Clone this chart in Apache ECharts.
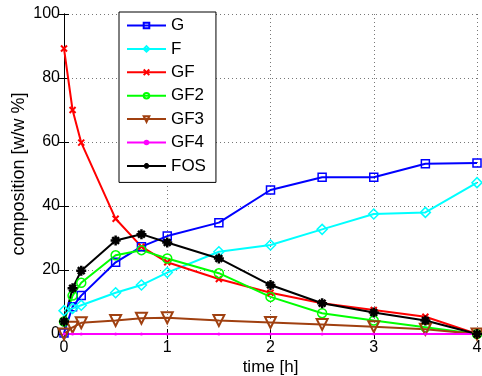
<!DOCTYPE html>
<html>
<head>
<meta charset="utf-8">
<script src="https://cdn.jsdelivr.net/npm/echarts@6/dist/echarts.min.js"></script>
<style>
  html, body { margin: 0; padding: 0; background: #fff; }
  #chart { width: 482px; height: 376px; }
</style>
</head>
<body>
<div id="chart"></div>
<script>
// time points [h]
const time = [0, 0.083, 0.167, 0.5, 0.75, 1, 1.5, 2, 2.5, 3, 3.5, 4];

// composition [w/w %]
const G   = [0.3, 8.5, 12, 22.4, 27.3, 30.6, 34.8, 45, 49, 49, 53.2, 53.4];
const F   = [7.3, 8, 9, 12.9, 15.3, 19.2, 25.7, 27.8, 32.7, 37.5, 38, 47.3];
const GF  = [89.2, 70, 59.8, 36, 27.3, 22.4, 17.2, 12.9, 9.6, 7.5, 5.4, 0];
const GF2 = [3.9, 12, 16, 24.6, 26.2, 23.6, 19, 11.6, 6.5, 4.2, 2.1, 0];
const GF3 = [0, 2.1, 3.5, 4.2, 4.9, 5.1, 4.2, 3.6, 3, 2.3, 1.5, 0];
const GF4 = [0, 0, 0, 0, 0, 0, 0, 0, 0, 0, 0, 0];
const FOS = [3.9, 14.3, 19.8, 29.2, 31.2, 28.6, 23.6, 15.3, 9.6, 6.7, 4.2, 0];

const xTicks = [0, 1, 2, 3, 4];
const yTicks = [0, 20, 40, 60, 80, 100];

const FONT = "'Liberation Sans', Arial, sans-serif";

// matlab-ish markers: hollow outlines, stroked paths for x and *
const CROSS = "path://M0,0L10,10M10,0L0,10";
const STAR = "path://M5,0L5,10M0,5L10,5M1.6,1.6L8.4,8.4M8.4,1.6L1.6,8.4";

function line(name, values, color, symbol, size, opts = {}) {
  return Object.assign({
    type: "line",
    name,
    data: values.map((v, i) => [time[i], v]),
    symbol,
    symbolSize: size,
    showAllSymbol: true,
    lineStyle: { color, width: 2 },
    itemStyle: { color: "rgba(0,0,0,0)", borderColor: color, borderWidth: 1.5 },
    emphasis: { disabled: true },
    animation: false,
  }, opts);
}

const chart = echarts.init(document.getElementById("chart"), null, { renderer: "canvas" });

chart.setOption({
  backgroundColor: "#fff",
  textStyle: { fontFamily: FONT },
  // v6 shrinks the grid to keep labels inside by default; the figure lets "4" hang off
  grid: { left: 64, right: 5, top: 14, bottom: 42, outerBoundsMode: "none" },
  legend: {
    orient: "vertical",
    left: 119,
    top: 12,
    padding: [5, 10, 8, 7],
    itemWidth: 39,
    itemHeight: 7,
    itemGap: 6.4,
    backgroundColor: "#fff",
    borderColor: "#000",
    borderWidth: 1,
    textStyle: { fontSize: 17, lineHeight: 17, color: "#000", fontFamily: FONT },
    data: ["G", "F", "GF", "GF2", "GF3", "GF4", "FOS"],
  },
  xAxis: [
    {
      type: "value",
      min: xTicks[0],
      max: xTicks[xTicks.length - 1],
      interval: 1,
      name: "time [h]",
      nameLocation: "middle",
      nameGap: 25,
      nameMoveOverlap: false,
      nameTextStyle: { fontSize: 17, color: "#000", fontFamily: FONT },
      axisLine: { lineStyle: { color: "#000", width: 1 } },
      axisTick: { inside: true, length: 5, lineStyle: { color: "#000" } },
      axisLabel: { fontSize: 16, color: "#000", margin: 6, fontFamily: FONT },
      splitLine: { show: true, lineStyle: { color: "#777", type: [1, 3], width: 1 } },
    },
    {
      type: "value",
      position: "top",
      min: xTicks[0],
      max: xTicks[xTicks.length - 1],
      interval: 1,
      axisLine: { lineStyle: { color: "#000", width: 1 } },
      axisTick: { inside: true, length: 5, lineStyle: { color: "#000" } },
      axisLabel: { show: false },
      splitLine: { show: false },
    },
  ],
  yAxis: [
    {
      type: "value",
      min: yTicks[0],
      max: yTicks[yTicks.length - 1],
      interval: 20,
      name: "composition [w/w %]",
      nameLocation: "middle",
      nameGap: 36,
      nameMoveOverlap: false,
      nameTextStyle: { fontSize: 18, color: "#000", fontFamily: FONT },
      axisLine: { show: true, lineStyle: { color: "#000", width: 1 } },
      axisTick: { show: true, inside: true, length: 5, lineStyle: { color: "#000" } },
      axisLabel: { fontSize: 16, color: "#000", margin: 4, fontFamily: FONT },
      splitLine: { show: true, lineStyle: { color: "#777", type: [1, 3], width: 1 } },
    },
    {
      type: "value",
      position: "right",
      min: yTicks[0],
      max: yTicks[yTicks.length - 1],
      interval: 20,
      axisLine: { show: true, lineStyle: { color: "#000", width: 1 } },
      axisTick: { show: true, inside: true, length: 5, lineStyle: { color: "#000" } },
      axisLabel: { show: false },
      splitLine: { show: false },
    },
  ],
  series: [
    line("G", G, "#0000ff", "rect", 8),
    line("F", F, "#00ffff", "diamond", 10),
    line("GF", GF, "#ff0000", CROSS, 6, {
      itemStyle: { color: "rgba(0,0,0,0)", borderColor: "#ff0000", borderWidth: 2 },
    }),
    line("GF2", GF2, "#00ff00", "circle", 9),
    line("GF3", GF3, "#a04010", "triangle", 11, {
      symbolRotate: 180,
      itemStyle: { color: "rgba(0,0,0,0)", borderColor: "#a04010", borderWidth: 2 },
    }),
    line("GF4", GF4, "#ff00ff", "circle", 3, {
      itemStyle: { color: "#ff00ff", borderColor: "#ff00ff", borderWidth: 0 },
    }),
    line("FOS", FOS, "#000000", STAR, 10, {
      itemStyle: { color: "rgba(0,0,0,0)", borderColor: "#000", borderWidth: 2.5 },
    }),
  ],
});
</script>
</body>
</html>
